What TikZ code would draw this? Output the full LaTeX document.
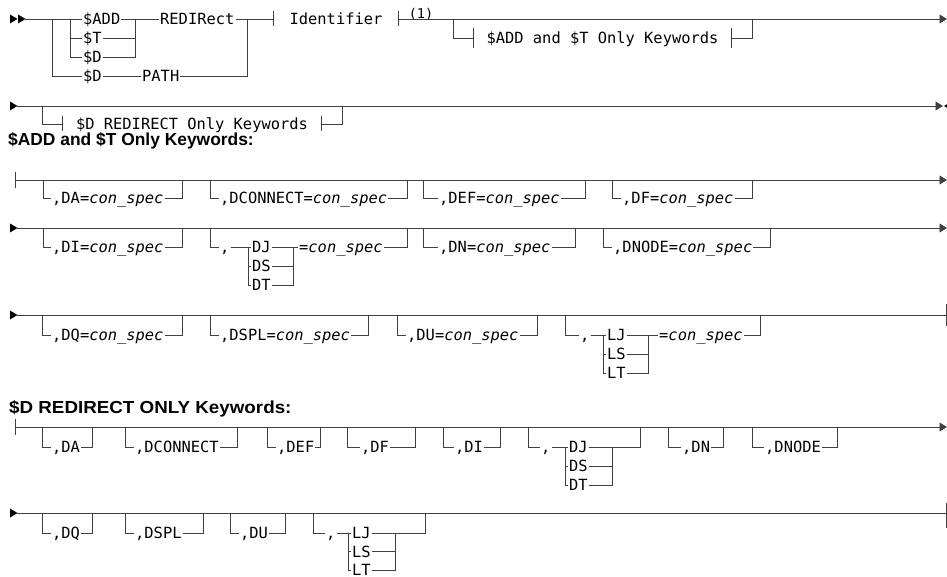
\documentclass[tikz,border=0pt]{standalone}
\usepackage{fontspec}
\setmainfont{Liberation Sans}
\newfontfamily\rrmono{DejaVu Sans Mono}
\usetikzlibrary{calc,arrows.meta}
\newcommand\cs{\textit{con\_spec}}
% optional box: name, xl, xt, xr, yrail, yopt, text
\newcommand\rrbox[7]{%
  \node[kw] (#1) at (#3,#6) {#7};
  \draw[rail] (#2,#5) |- (#1.west);
  \draw[rail] (#1.east) -| (#4,#5);
}
% stack of three alternatives: prefix, bl, br, yopt, dy, A, B, C
\newcommand\rrstack[8]{%
  \node[kw] (#1a) at (#2+3,#4) {#6};
  \node[kw] (#1b) at (#2+3,#4+#5) {#7};
  \node[kw] (#1c) at (#2+3,#4+2*#5) {#8};
  \draw[rail] (#2,#4) -- (#1a.west);
  \draw[rail] (#2,#4) |- (#1c.west);
  \draw[rail] (#2,#4+#5) -- (#1b.west);
  \draw[rail] (#1a.east) -- (#3,#4);
  \draw[rail] (#1c.east) -| (#3,#4);
  \draw[rail] (#1b.east) -| (#3,#4);
}
\newcommand\ntticks[2]{%
  \draw[rail] ($(#1.west)+(0,-#2)$) -- ($(#1.west)+(0,#2)$);
  \draw[rail] ($(#1.east)+(0,-#2)$) -- ($(#1.east)+(0,#2)$);
}
\newcommand\rtri[2]{\fill[black] (#1,#2-4.5) -- (#1+7.5,#2) -- (#1,#2+4.5) -- cycle;}
\begin{document}
\begin{tikzpicture}[x=1pt,y=-1pt,
  rail/.style={draw=black!75,line width=0.9pt},
  kw/.style={font=\rrmono\fontsize{15.4}{18}\selectfont,anchor=west,inner xsep=1pt,inner ysep=0pt,text height=11pt,text depth=0pt},
  ntbox/.style={font=\rrmono\fontsize{15.4}{18}\selectfont,anchor=center,inner ysep=0pt,text height=11pt,text depth=0pt},
  supnote/.style={font=\rrmono\fontsize{13.5}{15}\selectfont,inner sep=0pt},
  heading/.style={font=\bfseries\fontsize{17.4}{21}\selectfont,anchor=base west,inner sep=0pt},
  endtip/.style={-{Triangle[length=7.5pt,width=9pt]}}
]
\useasboundingbox (0,0) rectangle (947,577);

% ---------- line 1 ----------
\rtri{10}{19}\rtri{18}{19}
\coordinate (a0) at (25,19);
\coordinate (a1) at (947,19);
\node[kw] (add) at (82,19) {\$ADD};
\node[kw] (t) at (82,38) {\$T};
\node[kw] (d) at (82,57) {\$D};
\node[kw] (dp) at (82,76) {\$D};
\node[kw] (path) at (141,76) {PATH};
\node[kw] (redir) at (159,19) {REDIRect};
\node[ntbox,inner xsep=16pt] (ident) at (336,19) {Identifier};
\node[supnote] (n1) at (421,14) {(1)};
\draw[rail] (a0) -- (add.west);
\draw[rail] (52,19) |- (dp.west);
\draw[rail] (70,19) |- (d.west);
\draw[rail] (70,38) -- (t.west);
\draw[rail] (add.east) -- (redir.west);
\draw[rail] (t.east) -| (135,19);
\draw[rail] (d.east) -| (135,19);
\draw[rail] (dp.east) -- (path.west);
\draw[rail] (path.east) -| (247,19);
\draw[rail] (redir.east) -- (ident.west);
\ntticks{ident}{7.5}
\draw[rail,endtip] (ident.east) -- (a1);
\node[ntbox,inner xsep=13pt] (akw) at (602.5,38) {\$ADD and \$T Only Keywords};
\ntticks{akw}{10}
\draw[rail] (453,19) |- (akw.west);
\draw[rail] (akw.east) -| (752,19);

% ---------- line 2 ----------
\rtri{10}{106}
\coordinate (b0) at (17,106);
\coordinate (b1) at (943,106);
\draw[rail,endtip] (b0) -- (b1);
\fill[black] (944,106) -- (951.5,101.5) -- (951.5,110.5) -- cycle;
\node[ntbox,inner xsep=13pt] (dkw) at (192,124) {\$D REDIRECT Only Keywords};
\ntticks{dkw}{7.5}
\draw[rail] (42,106) |- (dkw.west);
\draw[rail] (dkw.east) -| (342,106);

% ---------- heading 1 ----------
\node[heading] (h1) at (8,146) {\$ADD and \$T Only Keywords:};

% row 1
\draw[rail] (15,172) -- (15,188);
\coordinate (c0) at (15,180);
\coordinate (c1) at (947,180);
\draw[rail,endtip] (c0) -- (c1);
\rrbox{o1}{43}{51}{182}{180}{198}{,DA=\cs}
\rrbox{o2}{210}{219}{407}{180}{198}{,DCONNECT=\cs}
\rrbox{o3}{423}{438}{585}{180}{198}{,DEF=\cs}
\rrbox{o4}{612}{621}{752}{180}{198}{,DF=\cs}

% row 2
\rtri{10}{228}
\coordinate (e0) at (17,228);
\coordinate (e1) at (947,228);
\draw[rail,endtip] (e0) -- (e1);
\rrbox{o5}{43}{51}{182}{228}{247}{,DI=\cs}
\node[kw] (o6c) at (219,247) {,};
\draw[rail] (210,228) |- (o6c.west);
\draw[rail] (o6c.east) -- (248,247);
\rrstack{o6}{248}{293}{247}{19}{DJ}{DS}{DT}
\node[kw] (o6t) at (298,247) {=\cs};
\draw[rail] (293,247) -- (o6t.west);
\draw[rail] (o6t.east) -| (407,228);
\rrbox{o7}{423}{438}{575}{228}{247}{,DN=\cs}
\rrbox{o8}{603}{612}{770}{228}{247}{,DNODE=\cs}

% row 3
\rtri{10}{315}
\coordinate (f0) at (17,315);
\coordinate (f1) at (946.5,315);
\draw[rail] (f0) -- (f1);
\draw[rail] (946.5,304) -- (946.5,326);
\rrbox{o9}{42}{51}{182}{315}{335}{,DQ=\cs}
\rrbox{o10}{210}{219}{368}{315}{335}{,DSPL=\cs}
\rrbox{o11}{397}{406}{537}{315}{335}{,DU=\cs}
\node[kw] (o12c) at (579,335) {,};
\draw[rail] (565,315) |- (o12c.west);
\draw[rail] (o12c.east) -- (603,335);
\rrstack{o12}{603}{648}{335}{19}{LJ}{LS}{LT}
\node[kw] (o12t) at (658,335) {=\cs};
\draw[rail] (648,335) -- (o12t.west);
\draw[rail] (o12t.east) -| (760,315);

% ---------- heading 2 ----------
\node[heading] (h2) at (9,413) {\scalebox{1.08}[1]{\$D REDIRECT ONLY Keywords:}};

% row 1
\draw[rail] (15,419) -- (15,435);
\coordinate (g0) at (15,427);
\coordinate (g1) at (947,427);
\draw[rail,endtip] (g0) -- (g1);
\rrbox{p1}{42}{51}{92}{427}{447}{,DA}
\rrbox{p2}{125}{134}{237}{427}{447}{,DCONNECT}
\rrbox{p3}{267}{276}{320}{427}{447}{,DEF}
\rrbox{p4}{347}{360}{415}{427}{447}{,DF}
\rrbox{p5}{443}{454}{500}{427}{447}{,DI}
\node[kw] (p6c) at (540,447) {,};
\draw[rail] (528,427) |- (p6c.west);
\draw[rail] (p6c.east) -- (565,447);
\rrstack{p6}{565}{612}{447}{19}{DJ}{DS}{DT}
\draw[rail] (612,447) -| (640,427);
\rrbox{p7}{668}{681}{723}{427}{447}{,DN}
\rrbox{p8}{752}{764}{837}{427}{447}{,DNODE}

% row 2
\rtri{10}{513}
\coordinate (h0) at (17,513);
\coordinate (h1e) at (946.5,513);
\draw[rail] (h0) -- (h1e);
\draw[rail] (946.5,503) -- (946.5,528);
\rrbox{q1}{42}{51}{92}{513}{533}{,DQ}
\rrbox{q2}{125}{134}{203}{513}{533}{,DSPL}
\rrbox{q3}{230}{239}{285}{513}{533}{,DU}
\node[kw] (q4c) at (325,533) {,};
\draw[rail] (313,513) |- (q4c.west);
\draw[rail] (q4c.east) -- (348,533);
\rrstack{q4}{348}{395}{533}{18.5}{LJ}{LS}{LT}
\draw[rail] (395,533) -| (425,513);
\end{tikzpicture}
\end{document}
